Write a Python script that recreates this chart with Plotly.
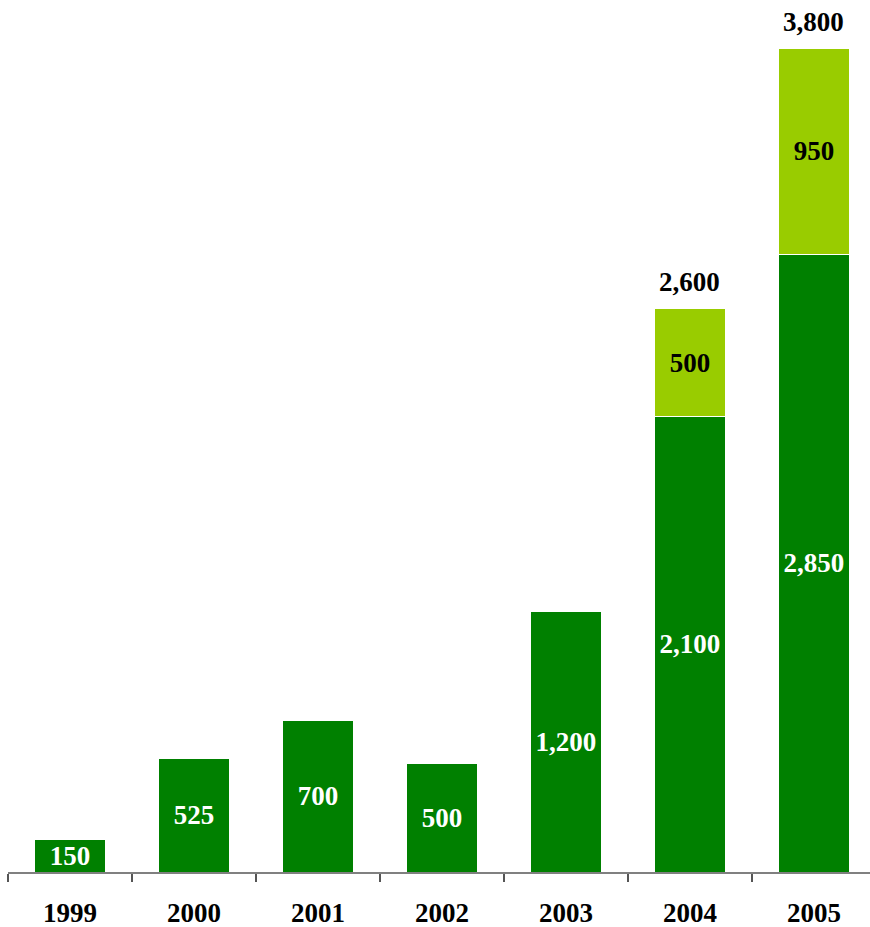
import plotly.graph_objects as go

years = ["1999", "2000", "2001", "2002", "2003", "2004", "2005"]
base_values = [150, 525, 700, 500, 1200, 2100, 2850]
top_values = [None, None, None, None, None, 500, 950]
totals = [None, None, None, None, None, 2600, 3800]

DARK = "#008000"
LIGHT = "#99CC00"
FONT = "Palatino Linotype, Book Antiqua, Palatino, Liberation Serif, serif"
SIZE = 27


def fmt(v):
    return "" if v is None else f"<b>{v:,}</b>"


fig = go.Figure()
fig.add_trace(go.Bar(
    x=years, y=base_values,
    marker=dict(color=DARK, line=dict(color="white", width=1)),
    width=0.57,
    text=[fmt(v) for v in base_values],
    textposition="inside", insidetextanchor="middle",
    constraintext="none",
    textfont=dict(family=FONT, size=SIZE, color="white"),
    hoverinfo="skip",
))
fig.add_trace(go.Bar(
    x=years, y=top_values,
    marker=dict(color=LIGHT, line=dict(color="white", width=1)),
    width=0.57,
    text=[fmt(v) for v in top_values],
    textposition="inside", insidetextanchor="middle",
    constraintext="none",
    textfont=dict(family=FONT, size=SIZE, color="black"),
    hoverinfo="skip",
))

# stack totals above the bars (x given as category index)
for i, tot in enumerate(totals):
    if tot is not None:
        fig.add_annotation(
            x=i, y=tot, text=fmt(tot), showarrow=False,
            xref="x", yref="y",
            yanchor="bottom", yshift=9,
            font=dict(family=FONT, size=SIZE, color="black"),
        )

fig.update_layout(
    barmode="stack",
    width=870, height=927,
    margin=dict(l=8, r=0, t=0, b=55),
    paper_bgcolor="white", plot_bgcolor="white",
    showlegend=False,
    uniformtext=dict(mode="show", minsize=10),
)
fig.update_xaxes(
    type="category", range=[-0.5, 6.452],
    showline=True, linecolor="#808080", linewidth=2,
    ticks="outside", tickson="boundaries", ticklen=8, tickwidth=1.5, tickcolor="#555555",
    tickfont=dict(family=FONT, size=SIZE, color="black"),
    ticklabelstandoff=16,
    showgrid=False, zeroline=False,
    tickprefix="<b>", ticksuffix="</b>",
)
fig.update_yaxes(
    range=[0, 4022], visible=False, showgrid=False, zeroline=False,
)

fig.write_html("out.html")
